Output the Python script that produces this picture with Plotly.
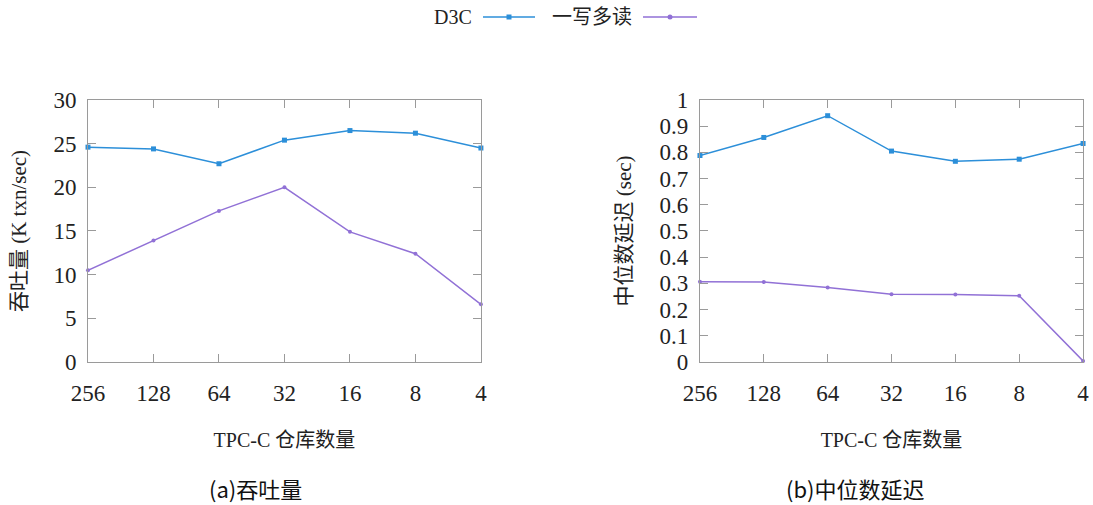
import plotly.graph_objects as go

# TPC-C warehouse counts (x categories)
warehouses = ["256", "128", "64", "32", "16", "8", "4"]

# Throughput (K txn/sec)
throughput_d3c = [24.6, 24.4, 22.7, 25.4, 26.5, 26.2, 24.5]
throughput_swmr = [10.5, 13.9, 17.3, 20.0, 14.9, 12.4, 6.6]

# Median latency (sec)
latency_d3c = [0.788, 0.857, 0.940, 0.805, 0.766, 0.774, 0.834]
latency_swmr = [0.306, 0.305, 0.284, 0.259, 0.258, 0.253, 0.004]

series_names = ["D3C", "一写多读"]
BLUE = "#2C8FD9"
PURPLE = "#9171D6"
FRAME = "#9a9a9a"

SERIF = "Liberation Serif, DejaVu Serif, serif"
CJK_SERIF = "Liberation Serif, Noto Sans CJK SC, serif"
SANS = "Noto Sans CJK SC, Noto Sans, sans-serif"

xs = list(range(len(warehouses)))

fig = go.Figure()


def add_series(y, color, symbol, size, xa, ya):
    fig.add_trace(go.Scatter(
        x=xs, y=y, mode="lines+markers",
        line=dict(color=color, width=1.5),
        marker=dict(color=color, symbol=symbol, size=size),
        xaxis=xa, yaxis=ya, showlegend=False, cliponaxis=False,
    ))


add_series(throughput_d3c, BLUE, "square", 5, "x", "y")
add_series(throughput_swmr, PURPLE, "circle", 4, "x", "y")
add_series(latency_d3c, BLUE, "square", 5, "x2", "y2")
add_series(latency_swmr, PURPLE, "circle", 4, "x2", "y2")

xaxis_common = dict(
    range=[0, len(warehouses) - 1],
    tickvals=xs, ticktext=warehouses,
    ticks="inside", ticklen=8, tickcolor=FRAME, tickwidth=1,
    showline=True, linecolor=FRAME, linewidth=1, mirror="allticks",
    showgrid=False, zeroline=False, automargin=False,
    tickfont=dict(family=SERIF, size=23, color="#222"),
    ticklabelstandoff=10,
    title=dict(text="TPC-C 仓库数量", font=dict(family=CJK_SERIF, size=20, color="#222"),
               standoff=28),
)

yaxis_common = dict(
    ticks="inside", ticklen=8, tickcolor=FRAME, tickwidth=1,
    showline=True, linecolor=FRAME, linewidth=1, mirror="allticks",
    showgrid=False, zeroline=False, automargin=False,
    tickfont=dict(family=SERIF, size=23, color="#222"),
    ticklabelstandoff=6,
)

fig.update_layout(
    width=1093, height=505,
    margin=dict(l=0, r=0, t=0, b=0, autoexpand=False),
    paper_bgcolor="white", plot_bgcolor="rgba(0,0,0,0)",
    xaxis=dict(domain=[0.0805, 0.4400], anchor="y", **xaxis_common),
    xaxis2=dict(domain=[0.6404, 0.9909], anchor="y2", **xaxis_common),
    yaxis=dict(domain=[0.2832, 0.8020], anchor="x", range=[0, 30], dtick=5,
               title=dict(text="吞吐量 (K txn/sec)",
                          font=dict(family=CJK_SERIF, size=21, color="#222"), standoff=21),
               **yaxis_common),
    yaxis2=dict(domain=[0.2832, 0.8020], anchor="x2", range=[0, 1], dtick=0.1,
                tickformat="~g",
                title=dict(text="中位数延迟 (sec)",
                           font=dict(family=CJK_SERIF, size=21, color="#222"), standoff=22),
                **yaxis_common),
    showlegend=False,
)

# Sub-figure captions
for caption, cx in (("(a)吞吐量", 255), ("(b)中位数延迟", 855)):
    fig.add_annotation(text=caption, x=cx / 1093, y=0, xref="paper", yref="paper",
                       showarrow=False, font=dict(family=SANS, size=22, color="#111"),
                       xanchor="center", yanchor="bottom", yshift=-1)

# Legend row at the top: label followed by line sample with a marker
legend_y = 1 - 17 / 505
legend_items = [
    (series_names[0], BLUE, 474 / 1093, 483 / 1093, 535 / 1093, "square"),
    (series_names[1], PURPLE, 634 / 1093, 643 / 1093, 697 / 1093, "circle"),
]
for name, color, text_x, x0, x1, sym in legend_items:
    fig.add_annotation(text=name, x=text_x, y=legend_y, xref="paper", yref="paper",
                       showarrow=False, xanchor="right", yanchor="middle",
                       font=dict(family=CJK_SERIF, size=20, color="#222"))
    fig.add_shape(type="line", xref="paper", yref="paper", x0=x0, x1=x1,
                  y0=legend_y, y1=legend_y, line=dict(color=color, width=1.5))
    fig.add_trace(go.Scatter(
        x=[(x0 + x1) / 2], y=[legend_y], mode="markers",
        marker=dict(color=color, symbol=sym, size=5),
        xaxis="x3", yaxis="y3", showlegend=False, hoverinfo="skip",
    ))

fig.update_layout(
    xaxis3=dict(domain=[0, 1], range=[0, 1], visible=False, anchor="y3", automargin=False),
    yaxis3=dict(domain=[0, 1], range=[0, 1], visible=False, anchor="x3", automargin=False),
)

fig.write_html("out.html")
